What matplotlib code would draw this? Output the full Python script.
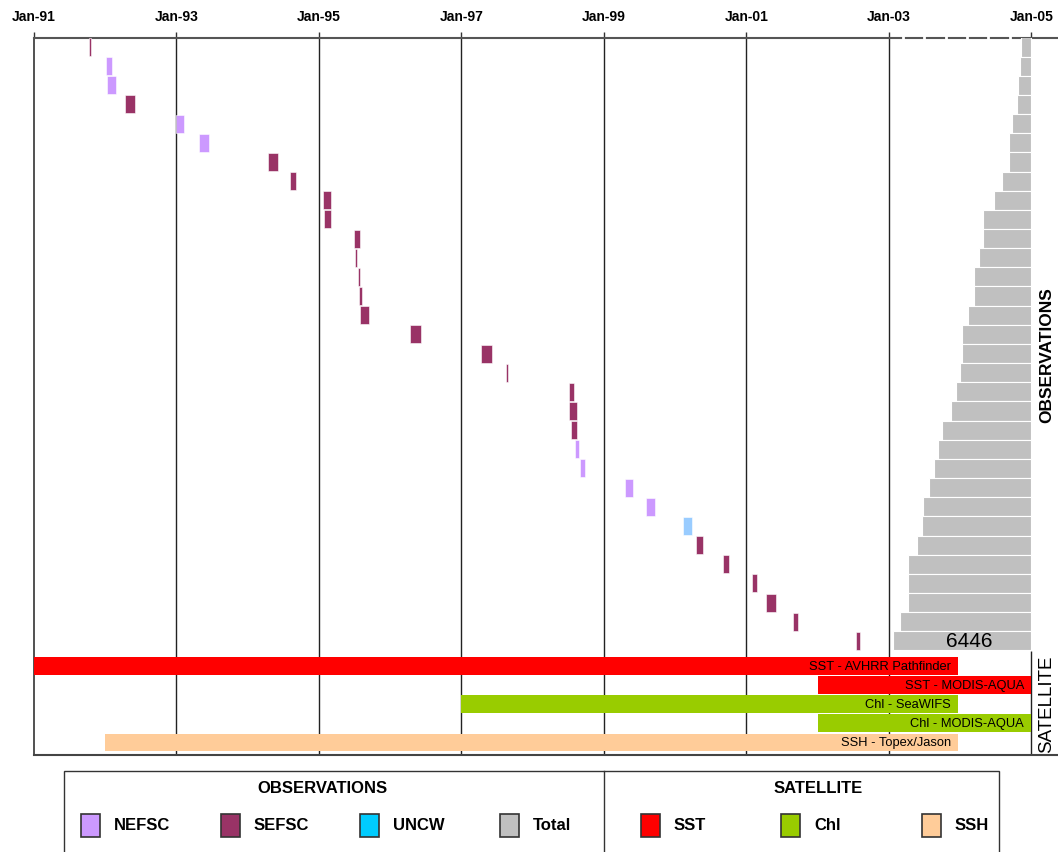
"""
Survey timeline: observation cruises (with running total) and satellite products.
Output : out.png
"""

import matplotlib
matplotlib.use("Agg")
import matplotlib.pyplot as plt
from matplotlib.patches import Rectangle
from matplotlib.lines import Line2D

plt.rcParams["font.family"] = ["Liberation Sans", "DejaVu Sans"]

# ---------------------------------------------------------------------------
# Data
# ---------------------------------------------------------------------------
YEAR_TICKS  = [1991, 1993, 1995, 1997, 1999, 2001, 2003, 2005]
YEAR_LABELS = ["Jan-91", "Jan-93", "Jan-95", "Jan-97", "Jan-99", "Jan-01", "Jan-03", "Jan-05"]

OBS_AGENCY = [
    "SEFSC", "NEFSC", "NEFSC", "SEFSC", "NEFSC", "NEFSC", "SEFSC", "SEFSC",
    "SEFSC", "SEFSC", "SEFSC", "SEFSC", "SEFSC", "SEFSC", "SEFSC", "SEFSC",
    "SEFSC", "SEFSC", "SEFSC", "SEFSC", "SEFSC", "NEFSC", "NEFSC", "NEFSC",
    "NEFSC", "UNCW", "SEFSC", "SEFSC", "SEFSC", "SEFSC", "SEFSC", "SEFSC",
]
OBS_START = [
    1991.775, 1992.015, 1992.030, 1992.284, 1992.996, 1993.323, 1994.291, 1994.600,
    1995.059, 1995.077, 1995.494, 1995.508, 1995.550, 1995.564, 1995.582, 1996.284,
    1997.280, 1997.627, 1998.507, 1998.507, 1998.544, 1998.600, 1998.670, 1999.293,
    1999.588, 2000.116, 2000.294, 2000.677, 2001.080, 2001.280, 2001.660, 2002.546,
]
OBS_END = [
    1991.797, 1992.100, 1992.160, 1992.416, 1993.108, 1993.455, 1994.423, 1994.676,
    1995.171, 1995.171, 1995.574, 1995.536, 1995.578, 1995.611, 1995.700, 1996.430,
    1997.435, 1997.655, 1998.586, 1998.619, 1998.619, 1998.656, 1998.732, 1999.405,
    1999.714, 2000.242, 2000.388, 2000.753, 2001.154, 2001.413, 2001.722, 2002.602,
]
OBS_TOTAL = [
    470, 545, 605, 670, 905, 1025, 1025, 1385,
    1760, 2260, 2260, 2430, 2680, 2680, 2975, 3220,
    3220, 3350, 3520, 3770, 4190, 4375, 4550, 4795,
    5045, 5110, 5355, 5775, 5775, 5775, 6135, 6446,
]

SAT_NAMES = ["SST - AVHRR Pathfinder", "SST - MODIS-AQUA", "Chl - SeaWIFS",
             "Chl - MODIS-AQUA", "SSH - Topex/Jason"]
SAT_TYPE  = ["SST", "SST", "Chl", "Chl", "SSH"]
SAT_START = [1991.0, 2002.0, 1997.0, 2002.0, 1992.0]
SAT_END   = [2003.97, 2005.0, 2003.97, 2005.0, 2003.97]

LEG_OBS_LABELS = ["NEFSC", "SEFSC", "UNCW", "Total"]
LEG_OBS_COLORS = ["#CC99FF", "#993366", "#00CCFF", "#C0C0C0"]
LEG_SAT_LABELS = ["SST", "Chl", "SSH"]
LEG_SAT_COLORS = ["#FF0000", "#99CC00", "#FFCC99"]

# ---------------------------------------------------------------------------
# Styles
# ---------------------------------------------------------------------------
BAR_COLORS = {"NEFSC": "#CC99FF", "SEFSC": "#993366", "UNCW": "#99CCFF"}
SAT_COLORS = {"SST": "#FF0000", "Chl": "#99CC00", "SSH": "#FFCC99"}
TOTAL_PER_YEAR = 3328          # observations per year-width of the time axis

W, H = 1058, 853


def fx(x):
    return x / W


def fy(y):
    return 1 - y / H


fig = plt.figure(figsize=(W / 100, H / 100), dpi=100)
ax = fig.add_axes([fx(33.8), fy(755.5), 1 - fx(33.8), (755.5 - 39) / H])

obs_rows = list(range(len(OBS_AGENCY)))
sat_rows = [len(OBS_AGENCY) + 0.3 + k for k in range(len(SAT_NAMES))]
y_bottom, y_top = 36.93, -0.47

# grid lines (Jan of odd years)
ax.vlines(YEAR_TICKS[1:-1], y_top, y_bottom, color="#222222", lw=1.0, zorder=1)
ax.vlines(YEAR_TICKS[-1], len(OBS_AGENCY) - 0.48, y_bottom, color="#222222", lw=1.0, zorder=1)

# observation cruises
ax.barh(obs_rows, [e - s for s, e in zip(OBS_START, OBS_END)], left=OBS_START,
        height=0.94, color=[BAR_COLORS[a] for a in OBS_AGENCY],
        edgecolor="white", linewidth=0.4, zorder=3)

# satellite products
ax.barh(sat_rows, [e - s for s, e in zip(SAT_START, SAT_END)], left=SAT_START,
        height=0.93, color=[SAT_COLORS[t] for t in SAT_TYPE], linewidth=0, zorder=3)
for r, name, end in zip(sat_rows, SAT_NAMES, SAT_END):
    ax.text(end - 0.1, r, name, ha="right", va="center", fontsize=9.3, zorder=4)

ax.set_xlim(1991, 1991 + (W - 33.8) / 71.25)
ax.set_ylim(y_bottom, y_top)
ax.set_yticks([])

# running total, drawn leftwards from Jan-05
ax2 = ax.twiny()
x0, x1 = ax.get_xlim()
ax2.set_xlim((2005 - x0) * TOTAL_PER_YEAR, (2005 - x1) * TOTAL_PER_YEAR)
ax2.barh(obs_rows, OBS_TOTAL, left=0, height=1.0, color="#C0C0C0",
         edgecolor="white", linewidth=0.8, zorder=2)
ax2.text(OBS_TOTAL[-1] * 0.45, obs_rows[-1], str(OBS_TOTAL[-1]),
         ha="center", va="center", fontsize=15)
for s in ax2.spines.values():
    s.set_visible(False)
ax2.set_xticks(range(1000, 7000, 1000))
ax2.tick_params(axis="x", top=True, bottom=False, labeltop=False, labelbottom=False,
                direction="inout", length=5, width=2.0, color="white")
ax2.set_ylim(y_bottom, y_top)

# year ticks on top (after twiny, which moves them to the bottom)
ax.xaxis.tick_top()
ax.set_xticks(YEAR_TICKS)
ax.set_xticklabels(YEAR_LABELS, fontweight="bold")
ax.tick_params(axis="x", top=True, bottom=False, labeltop=True, labelbottom=False,
               direction="out", length=4, width=1, color="#333333", pad=7, labelsize=10)

ax.spines["right"].set_visible(False)
ax.spines["top"].set_color("#555555")
ax.spines["top"].set_linewidth(1.5)
ax.spines["bottom"].set_color("#444444")
ax.spines["bottom"].set_linewidth(1.5)
ax.spines["left"].set_color("#333333")
ax.spines["left"].set_linewidth(1.2)

# side labels
fig.text(fx(1047), fy(355), "OBSERVATIONS", rotation=90, ha="center", va="center",
         fontsize=12.5, fontweight="bold")
fig.text(fx(1047), fy(704), "SATELLITE", rotation=90, ha="center", va="center",
         fontsize=13.5)

# ---------------------------------------------------------------------------
# Legend box
# ---------------------------------------------------------------------------
fig.add_artist(Rectangle((fx(64), fy(862)), (999 - 64) / W, (862 - 772) / H,
                         transform=fig.transFigure, fill=False,
                         edgecolor="#333333", lw=1.0))
fig.add_artist(Line2D([fx(604), fx(604)], [fy(772), fy(862)],
                      transform=fig.transFigure, color="#333333", lw=1.0))
fig.text(fx(322), fy(789), "OBSERVATIONS", ha="center", va="center",
         fontsize=12, fontweight="bold")
fig.text(fx(818), fy(789), "SATELLITE", ha="center", va="center",
         fontsize=12, fontweight="bold")

patch_w, patch_h, row_y = 19, 23, 826
for label, color, px in zip(LEG_OBS_LABELS + LEG_SAT_LABELS,
                            LEG_OBS_COLORS + LEG_SAT_COLORS,
                            [80.5, 220.5, 360, 500, 641, 781, 922]):
    fig.add_artist(Rectangle((fx(px), fy(row_y + patch_h / 2)), patch_w / W, patch_h / H,
                             transform=fig.transFigure, facecolor=color,
                             edgecolor="#333333", lw=1.2))
    fig.text(fx(px + 33), fy(row_y), label, ha="left", va="center",
             fontsize=12, fontweight="bold")

fig.savefig("out.png", dpi=100)
plt.close(fig)
